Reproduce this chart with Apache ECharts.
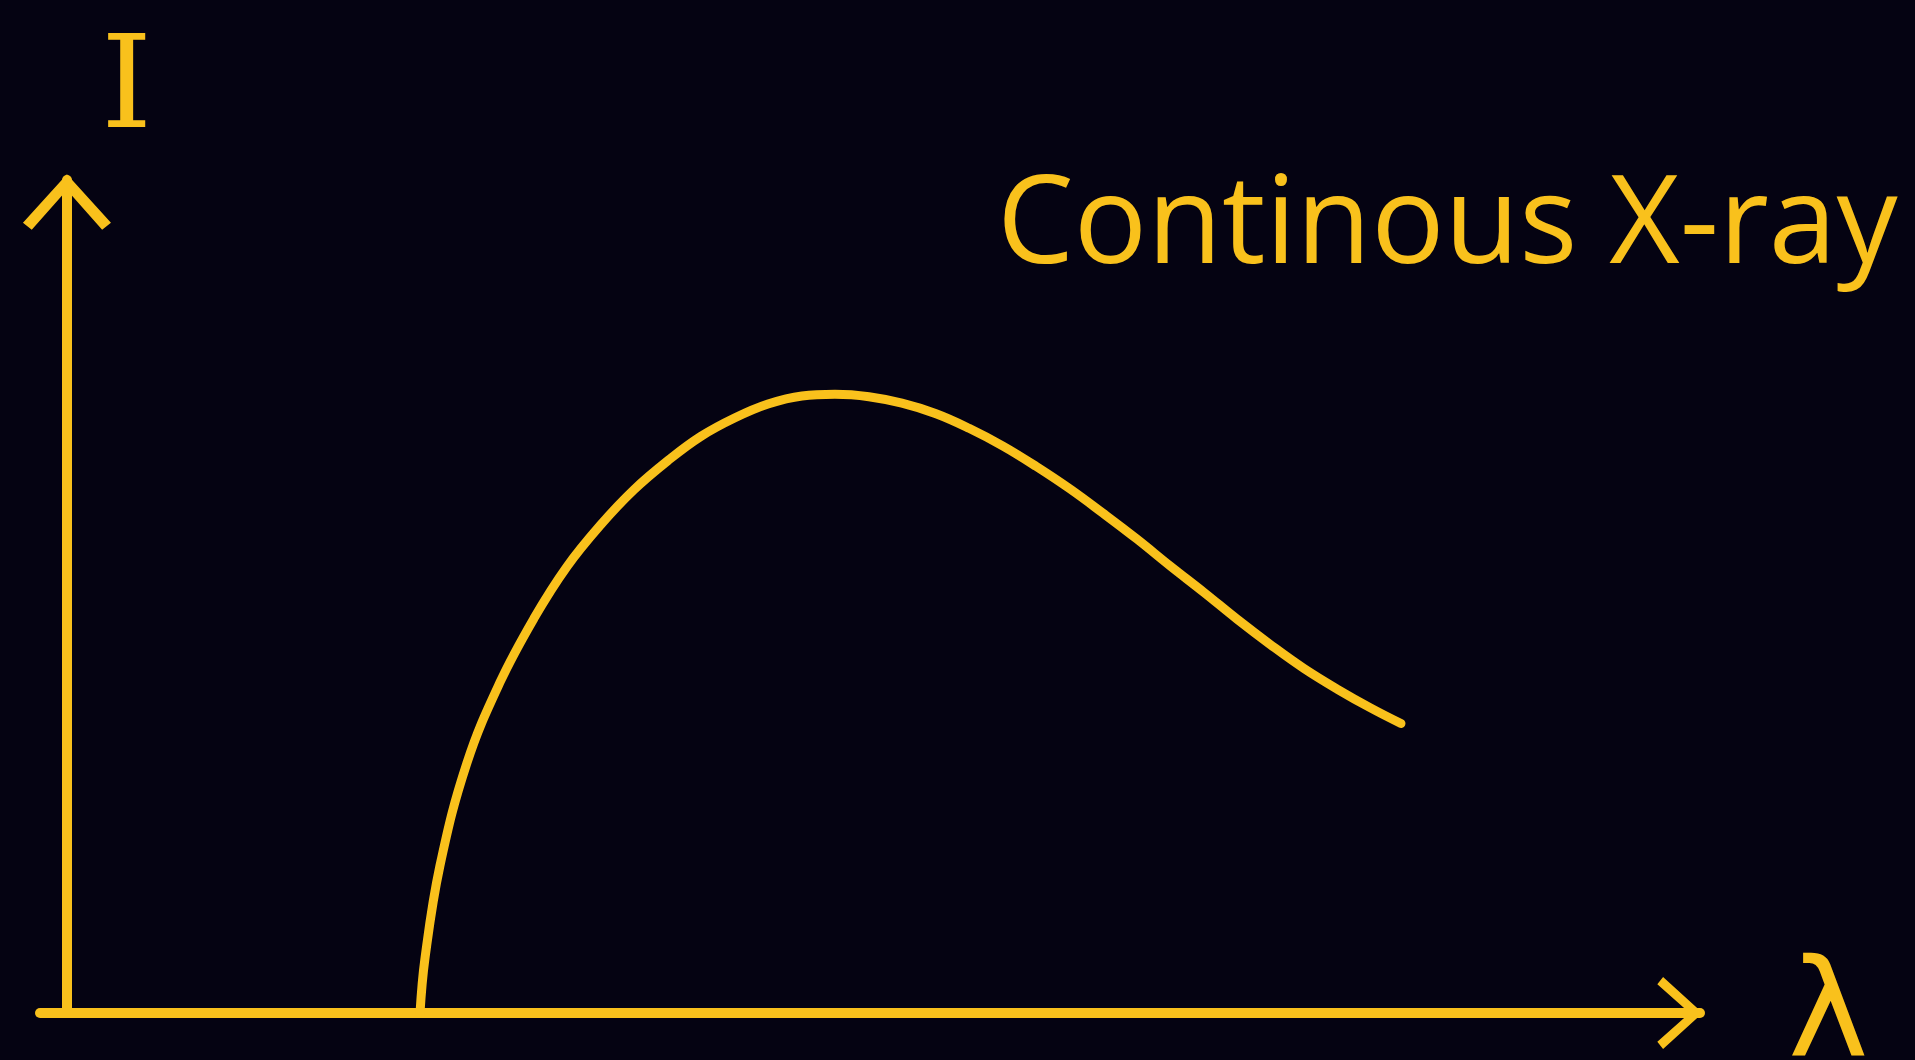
<!DOCTYPE html>
<html>
<head>
<meta charset="utf-8">
<title>Continous X-ray</title>
<script src="https://cdn.jsdelivr.net/npm/echarts@6/dist/echarts.min.js"></script>
<style>
  html, body { margin: 0; padding: 0; background: #050312; }
  #chart { width: 1915px; height: 1060px; }
</style>
</head>
<body>
<div id="chart"></div>
<script>
// wavelength (arbitrary units)
const lambda = [21.62, 21.92, 22.84, 24.49, 26.52, 28.60, 30.62, 32.70, 34.72, 36.80, 38.82, 40.91, 42.93, 45.01, 47.03, 49.11,
  51.13, 53.22, 55.24, 57.32, 59.34, 61.42, 63.44, 65.52, 67.54, 69.63, 71.65, 73.73, 75.75, 77.83, 79.85, 81.69]
// intensity (arbitrary units)
const intensity = [0, 6.7, 18.2, 30.9, 40.9, 48.8, 55.2, 60.4, 64.7, 68.3, 71.3, 73.6, 75.3, 76.3, 76.5, 76.2,
  75.4, 74.1, 72.3, 70.1, 67.6, 64.8, 61.8, 58.6, 55.3, 52.0, 48.7, 45.5, 42.6, 40.0, 37.7, 35.8]

const titleText = 'Continous X-ray'
const xName = 'λ'
const yName = 'I'

const yellow = '#f9c11c'
// open arrow head, drawn pointing up; echarts turns it along the axis
const chevron = 'path://M50,0 L100,55 L90,63 L50,18 L10,63 L0,55 Z'

const points = lambda.map((x, i) => [x, intensity[i]])

const chart = echarts.init(document.getElementById('chart'))
chart.setOption({
  animation: false,
  backgroundColor: '#050312',
  title: {
    text: titleText,
    left: 992,
    top: 162,
    textStyle: { color: yellow, fontSize: 122, fontWeight: 'normal', fontFamily: 'Open Sans' }
  },
  grid: {
    left: 40,
    right: 215,
    top: 180,
    bottom: 47,
    outerBoundsMode: 'none'
  },
  xAxis: {
    type: 'value',
    min: -1.65,
    max: 100,
    // empty first line pushes the symbol a little below the axis
    name: '{gap| }\n{l|' + xName + '}',
    nameLocation: 'end',
    nameGap: 88,
    nameTextStyle: {
      color: yellow,
      rich: {
        gap: { height: 16, fontSize: 10 },
        l: { color: yellow, fontSize: 136, fontFamily: 'DejaVu Sans' }
      }
    },
    axisLine: {
      lineStyle: { color: yellow, width: 10, cap: 'round' },
      symbol: ['none', chevron],
      symbolSize: [72, 62],
      symbolOffset: [0, -20]
    },
    axisTick: { show: false },
    axisLabel: { show: false },
    splitLine: { show: false }
  },
  yAxis: {
    type: 'value',
    min: 0,
    max: 103,
    name: yName,
    nameLocation: 'end',
    nameGap: 22,
    nameTextStyle: { color: yellow, fontSize: 130, fontFamily: 'DejaVu Serif', align: 'left', padding: [0, 0, 0, 34] },
    axisLine: {
      onZero: true,
      lineStyle: { color: yellow, width: 10, cap: 'round' },
      symbol: ['none', chevron],
      symbolSize: [88, 62],
      symbolOffset: [0, -22]
    },
    axisTick: { show: false },
    axisLabel: { show: false },
    splitLine: { show: false }
  },
  series: [
    {
      type: 'line',
      data: points,
      smooth: 0.4,
      showSymbol: false,
      lineStyle: { color: yellow, width: 9, cap: 'round' }
    }
  ]
})
</script>
</body>
</html>
